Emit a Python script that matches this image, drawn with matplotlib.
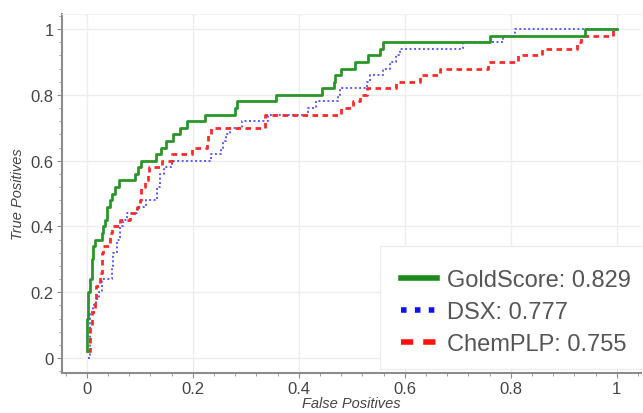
import numpy as np
import matplotlib
matplotlib.use("Agg")
import matplotlib.pyplot as plt
from matplotlib.lines import Line2D
from matplotlib.patches import Rectangle
from matplotlib.ticker import MultipleLocator

plt.rcParams['font.family'] = ['Liberation Sans', 'DejaVu Sans']

# === ROC staircase data (fpr where the curve steps up, tpr after the step) ===
gold_fpr = [0, 0, 0.003, 0.006, 0.009, 0.011, 0.015, 0.028, 0.031, 0.034,
            0.038, 0.043, 0.047, 0.053, 0.06, 0.09, 0.097, 0.103, 0.13, 0.14,
            0.15, 0.163, 0.176, 0.188, 0.222, 0.28, 0.283, 0.357, 0.443, 0.466,
            0.469, 0.48, 0.506, 0.53, 0.553, 0.558, 0.76, 0.94, 1.0]
gold_tpr = [0.02, 0.12, 0.20, 0.24, 0.30, 0.34, 0.36, 0.38, 0.40, 0.42,
            0.46, 0.48, 0.50, 0.52, 0.54, 0.56, 0.58, 0.60, 0.62, 0.64,
            0.66, 0.68, 0.70, 0.72, 0.74, 0.76, 0.78, 0.80, 0.82, 0.84,
            0.86, 0.88, 0.90, 0.92, 0.94, 0.96, 0.98, 1.0, 1.0]

dsx_fpr = [0.003, 0.005, 0.012, 0.018, 0.022, 0.028, 0.047, 0.05, 0.056, 0.062,
           0.068, 0.075, 0.094, 0.112, 0.132, 0.138, 0.145, 0.16, 0.235, 0.254,
           0.257, 0.262, 0.27, 0.292, 0.342, 0.417, 0.433, 0.474, 0.478, 0.528,
           0.535, 0.559, 0.572, 0.584, 0.59, 0.709, 0.785, 0.808, 1.0]
dsx_tpr = [0.0, 0.14, 0.16, 0.18, 0.20, 0.24, 0.28, 0.32, 0.36, 0.40,
           0.42, 0.44, 0.46, 0.48, 0.52, 0.56, 0.58, 0.60, 0.62, 0.64,
           0.66, 0.68, 0.70, 0.72, 0.74, 0.76, 0.78, 0.80, 0.82, 0.84,
           0.86, 0.88, 0.90, 0.92, 0.94, 0.96, 0.98, 1.0, 1.0]

plp_fpr = [0.003, 0.006, 0.009, 0.015, 0.018, 0.025, 0.028, 0.031, 0.043, 0.047,
           0.062, 0.081, 0.094, 0.1, 0.103, 0.11, 0.115, 0.118, 0.141, 0.16,
           0.198, 0.226, 0.229, 0.235, 0.336, 0.48, 0.502, 0.515, 0.528, 0.584,
           0.628, 0.666, 0.757, 0.814, 0.858, 0.925, 0.932, 0.993, 1.0]
plp_tpr = [0.02, 0.10, 0.14, 0.18, 0.22, 0.26, 0.32, 0.34, 0.38, 0.40,
           0.42, 0.44, 0.46, 0.48, 0.52, 0.54, 0.56, 0.58, 0.60, 0.62,
           0.64, 0.66, 0.68, 0.70, 0.74, 0.76, 0.78, 0.80, 0.82, 0.84,
           0.86, 0.88, 0.90, 0.92, 0.94, 0.96, 0.98, 1.0, 1.0]

labels = ["GoldScore: 0.829", "DSX: 0.777", "ChemPLP: 0.755"]
ticks = [0, 0.2, 0.4, 0.6, 0.8, 1]
tick_labels = ["0", "0.2", "0.4", "0.6", "0.8", "1"]

green = '#2a962a'
blue = '#5a5aff'
red = '#ff2a2a'

fig = plt.figure(figsize=(6.43, 4.14), dpi=100)
ax = fig.add_axes([0.0964, 0.097, 0.9, 0.866])

ax.step(gold_fpr, gold_tpr, where='post', color=green, lw=2.0, zorder=4)
ax.step(dsx_fpr, dsx_tpr, where='post', color=blue, lw=1.4, ls=(0, (1, 1.3)), zorder=3)
ax.step(plp_fpr, plp_tpr, where='post', color=red, lw=2.0, ls=(0, (2, 1.6)), zorder=3)

ax.set_xlim(-0.047, 1.045)
ax.set_ylim(-0.045, 1.045)
ax.set_xticks(ticks)
ax.set_xticklabels(tick_labels)
ax.set_yticks(ticks)
ax.set_yticklabels(tick_labels)
ax.xaxis.set_minor_locator(MultipleLocator(0.04))
ax.yaxis.set_minor_locator(MultipleLocator(0.04))
ax.grid(True, which='major', color='#ededed', lw=1.0, zorder=0)
ax.set_axisbelow(True)

ax.spines['right'].set_visible(False)
ax.spines['top'].set_color('#f0f0f0')
ax.spines['left'].set_color('#8c8c8c')
ax.spines['bottom'].set_color('#8c8c8c')
ax.spines['left'].set_linewidth(1.5)
ax.spines['bottom'].set_linewidth(1.5)
ax.tick_params(which='major', length=3.5, color='#8c8c8c', labelsize=12,
               labelcolor='#444444', pad=2.5)
ax.tick_params(which='minor', length=2.5, color='#8c8c8c')

ax.set_xlabel("False Positives", fontsize=10.5, style='italic', color='#444444', labelpad=0)
ax.set_ylabel("True Positives", fontsize=10.5, style='italic', color='#444444', labelpad=4)

# white legend panel
ax.add_patch(Rectangle((0.549, 0.01), 0.46, 0.343, transform=ax.transAxes,
                       facecolor='white', edgecolor='#ececec', lw=1.0, zorder=6,
                       clip_on=False))
handles = [Line2D([], [], color='#1a8a1a', lw=4),
           Line2D([], [], color='#1010ff', lw=4, ls=(0, (1, 1.5))),
           Line2D([], [], color='#ff1010', lw=4, ls=(0, (2.2, 1.8)))]
leg = ax.legend(handles, labels, loc='center left', bbox_to_anchor=(0.57, 0.17),
                frameon=False, fontsize=17, handlelength=1.5, handletextpad=0.45,
                labelspacing=0.42, borderaxespad=0)
leg.set_zorder(7)
for t in leg.get_texts():
    t.set_color('#555555')

fig.savefig("out.png", dpi=100)
